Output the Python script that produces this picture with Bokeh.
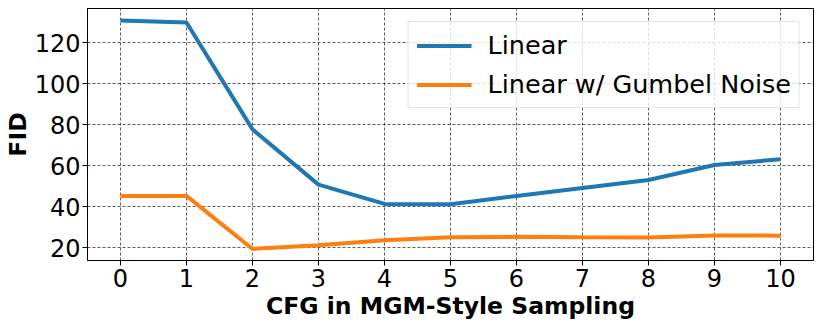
from bokeh.plotting import figure
from bokeh.models import Range1d, FixedTicker, Legend, LegendItem
from bokeh.embed import file_html
from bokeh.resources import INLINE

cfg = [0, 1, 2, 3, 4, 5, 6, 7, 8, 9, 10]
linear = [130.9, 129.9, 77.7, 50.7, 41.3, 41.1, 45.2, 49.1, 53.0, 60.3, 63.1]
gumbel = [45.2, 45.2, 19.3, 21.1, 23.6, 25.0, 25.2, 25.0, 24.9, 25.9, 25.8]
y_ticks = [20, 40, 60, 80, 100, 120]
labels = ["Linear", "Linear w/ Gumbel Noise"]

FONT = "DejaVu Sans"

p = figure(width=822, height=326, output_backend="svg", toolbar_location=None,
           x_range=Range1d(-0.5, 10.5), y_range=Range1d(13.66, 136.7),
           min_border_left=80, min_border_right=9, min_border_top=8, min_border_bottom=66)
p.background_fill_color = "white"
p.border_fill_color = "white"
p.outline_line_color = "black"
p.outline_line_width = 1

r1 = p.line(cfg, linear, line_color="#1f77b4", line_width=4)
r2 = p.line(cfg, gumbel, line_color="#ff7f0e", line_width=4)

p.xaxis.ticker = FixedTicker(ticks=cfg)
p.yaxis.ticker = FixedTicker(ticks=y_ticks)
for ax in (p.xaxis, p.yaxis):
    ax.axis_line_color = "black"
    ax.major_tick_line_color = "black"
    ax.major_tick_out = 5
    ax.major_tick_in = 0
    ax.minor_tick_line_color = None
    ax.major_label_text_font = FONT
    ax.major_label_text_font_size = "24px"
    ax.major_label_text_color = "black"
    ax.axis_label_text_font = FONT
    ax.axis_label_text_font_size = "23.5px"
    ax.axis_label_text_font_style = "bold"
    ax.axis_label_text_color = "black"
p.xaxis.axis_label = "CFG in MGM-Style Sampling"
p.yaxis.axis_label = "FID"
p.xaxis.major_label_standoff = 3
p.yaxis.major_label_standoff = 2
p.xaxis.axis_label_standoff = 2
p.yaxis.axis_label_standoff = 0

p.grid.grid_line_color = "black"
p.grid.grid_line_alpha = 0.8
p.grid.grid_line_dash = "3 2"
p.grid.grid_line_width = 0.8

legend = Legend(items=[LegendItem(label=labels[0], renderers=[r1]),
                       LegendItem(label=labels[1], renderers=[r2])],
                location="top_right")
legend.margin = 13
legend.padding = 8
legend.spacing = 9
legend.glyph_width = 55
legend.glyph_height = 27
legend.label_height = 27
legend.label_standoff = 16
legend.label_text_font = FONT
legend.label_text_font_size = "25.5px"
legend.label_text_color = "black"
legend.border_line_color = "#cccccc"
legend.border_line_width = 1
legend.background_fill_alpha = 0.8
p.add_layout(legend)

open("out.html", "w").write(file_html(p, INLINE))
